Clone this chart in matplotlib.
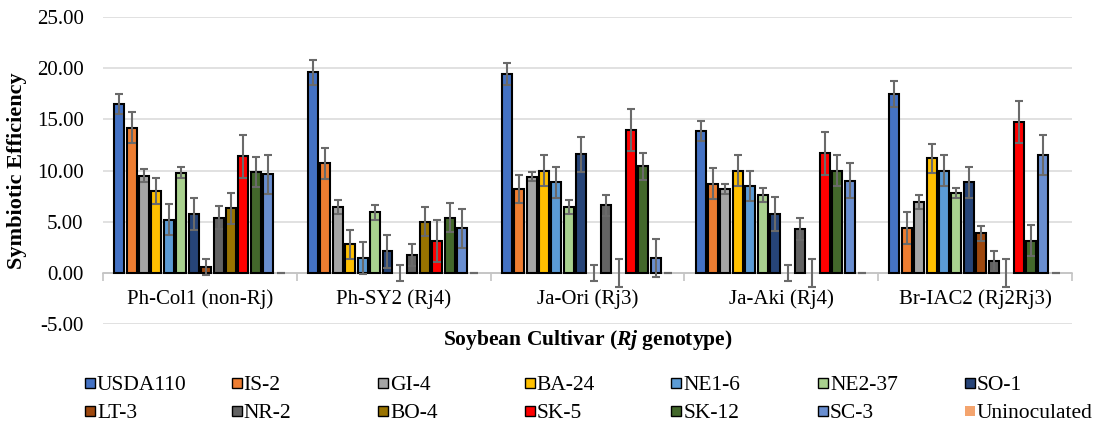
import matplotlib
matplotlib.use("Agg")
import matplotlib.pyplot as plt
from matplotlib.patches import Rectangle
import numpy as np

plt.rcParams['font.family'] = 'Liberation Serif'
plt.rcParams['mathtext.fontset'] = 'custom'
plt.rcParams['mathtext.bfit'] = 'Liberation Serif:italic:bold'
plt.rcParams['mathtext.rm'] = 'Liberation Serif:bold'

# Cultivars (x groups)
cultivars = ['Ph-Col1 (non-Rj)', 'Ph-SY2 (Rj4)', 'Ja-Ori (Rj3)', 'Ja-Aki (Rj4)', 'Br-IAC2 (Rj2Rj3)']

# Rhizobial strains (series)
strains = ['USDA110', 'IS-2', 'GI-4', 'BA-24', 'NE1-6', 'NE2-37', 'SO-1',
           'LT-3', 'NR-2', 'BO-4', 'SK-5', 'SK-12', 'SC-3', 'Uninoculated']
colors = ['#4472C4', '#ED7D31', '#A5A5A5', '#FFC000', '#5B9BD5', '#A9D18E', '#264478',
          '#9E480E', '#636363', '#997300', '#FF0000', '#43682B', '#698ED0', '#F4A46E']

# mean symbiotic efficiency, one list per strain, one value per cultivar
usda110 = [16.5, 19.6, 19.45, 13.85, 17.5]
is2 = [14.2, 10.7, 8.2, 8.7, 4.35]
gi4 = [9.5, 6.45, 9.4, 8.2, 6.95]
ba24 = [8.0, 2.8, 10.0, 10.0, 11.2]
ne16 = [5.2, 1.45, 8.85, 8.5, 10.0]
ne237 = [9.8, 5.9, 6.45, 7.6, 7.8]
so1 = [5.75, 2.1, 11.6, 5.75, 8.85]
lt3 = [0.6, 0.0, 0.0, 0.0, 3.85]
nr2 = [5.4, 1.75, 6.6, 4.3, 1.15]
bo4 = [6.3, 5.0, 0.0, 0.0, 0.0]
sk5 = [11.4, 3.15, 14.0, 11.7, 14.7]
sk12 = [9.85, 5.4, 10.4, 10.0, 3.15]
sc3 = [9.65, 4.35, 1.45, 9.0, 11.55]
uninoc = [0.0, 0.0, 0.0, 0.0, 0.0]

# standard errors
usda110_err = [1.0, 1.2, 1.05, 1.0, 1.25]
is2_err = [1.5, 1.5, 1.4, 1.5, 1.55]
gi4_err = [0.6, 0.7, 0.45, 0.5, 0.7]
ba24_err = [1.3, 1.4, 1.5, 1.5, 1.4]
ne16_err = [1.5, 1.6, 1.5, 1.5, 1.5]
ne237_err = [0.5, 0.7, 0.7, 0.7, 0.5]
so1_err = [1.6, 1.6, 1.7, 1.7, 1.5]
lt3_err = [0.8, 0.8, 0.8, 0.8, 0.7]
nr2_err = [1.1, 1.05, 1.0, 1.1, 0.95]
bo4_err = [1.5, 1.4, 1.4, 1.4, 1.4]
sk5_err = [2.1, 2.05, 2.05, 2.1, 2.05]
sk12_err = [1.5, 1.4, 1.35, 1.5, 1.55]
sc3_err = [1.9, 1.9, 1.9, 1.7, 1.95]
uninoc_err = [0.0, 0.0, 0.0, 0.0, 0.0]

means = [usda110, is2, gi4, ba24, ne16, ne237, so1, lt3, nr2, bo4, sk5, sk12, sc3, uninoc]
errs = [usda110_err, is2_err, gi4_err, ba24_err, ne16_err, ne237_err, so1_err,
        lt3_err, nr2_err, bo4_err, sk5_err, sk12_err, sc3_err, uninoc_err]

W, H = 1107, 424
fig = plt.figure(figsize=(W / 100, H / 100), dpi=100)
ax = fig.add_axes([103 / W, 1 - 324 / H, 969 / W, 307 / H])

n = len(strains)
slot = 1 / (n + 1.6)
x = np.arange(len(cultivars))
for i, (name, vals, err, c) in enumerate(zip(strains, means, errs, colors)):
    pos = x + (i - (n - 1) / 2) * slot
    # excel doesn't outline empty bars
    edges = ['black' if (v != 0 and name != 'Uninoculated') else 'none' for v in vals]
    ax.bar(pos, vals, width=slot * 0.8, color=c, edgecolor=edges, linewidth=1.5, zorder=3)
    ax.errorbar(pos, vals, yerr=err, fmt='none', ecolor='#6A6A6A', elinewidth=1.5,
                capsize=3.2, capthick=1.5, zorder=4)

ax.set_xlim(-0.5, len(cultivars) - 0.5)
ax.set_ylim(-5, 25)
ax.set_yticks(np.arange(-5, 26, 5))
ax.set_yticklabels([f'{v:.2f}' for v in np.arange(-5, 26, 5)])
ax.grid(axis='y', color='#D9D9D9', linewidth=1.1, zorder=0)
ax.set_axisbelow(True)

for s in ['top', 'right', 'left']:
    ax.spines[s].set_visible(False)
ax.spines['bottom'].set_position(('data', 0))
ax.spines['bottom'].set_color('#BFBFBF')
ax.spines['bottom'].set_linewidth(1.1)
ax.spines['bottom'].set_zorder(2)

ax.set_xticks(x)
ax.set_xticklabels(cultivars)
ax.set_xticks(np.arange(len(cultivars) + 1) - 0.5, minor=True)
ax.tick_params(axis='x', which='major', length=0, pad=12, labelsize=15)
ax.tick_params(axis='x', which='minor', length=6, width=1.1, color='#BFBFBF')
ax.tick_params(axis='y', length=0, pad=14, labelsize=15)

ax.set_ylabel('Symbiotic Efficiency', fontsize=16, fontweight='bold')
ax.yaxis.set_label_coords(-0.0885, 0.5)
ax.yaxis.label.set_va('center')
ax.set_xlabel(r'Soybean Cultivar ($\mathbfit{Rj}$ genotype)', fontsize=15.5, fontweight='bold')
ax.xaxis.set_label_coords(0.5, -0.052)
ax.xaxis.label.set_va('center')

# legend, laid out in 7 evenly spaced columns like the original
for i, (name, c) in enumerate(zip(strains, colors)):
    row, col = divmod(i, 7)
    mx = 85 + col * 146.6
    my = 382.5 + row * 28
    ec = 'none' if name == 'Uninoculated' else 'black'
    fig.patches.append(Rectangle((mx / W, 1 - (my + 5) / H), 10 / W, 10 / H,
                                 transform=fig.transFigure, facecolor=c, edgecolor=ec,
                                 linewidth=1.0))
    fig.text((mx + 12) / W, 1 - my / H, name, fontsize=15.5, va='center_baseline', ha='left')

fig.savefig('out.png', dpi=100)
